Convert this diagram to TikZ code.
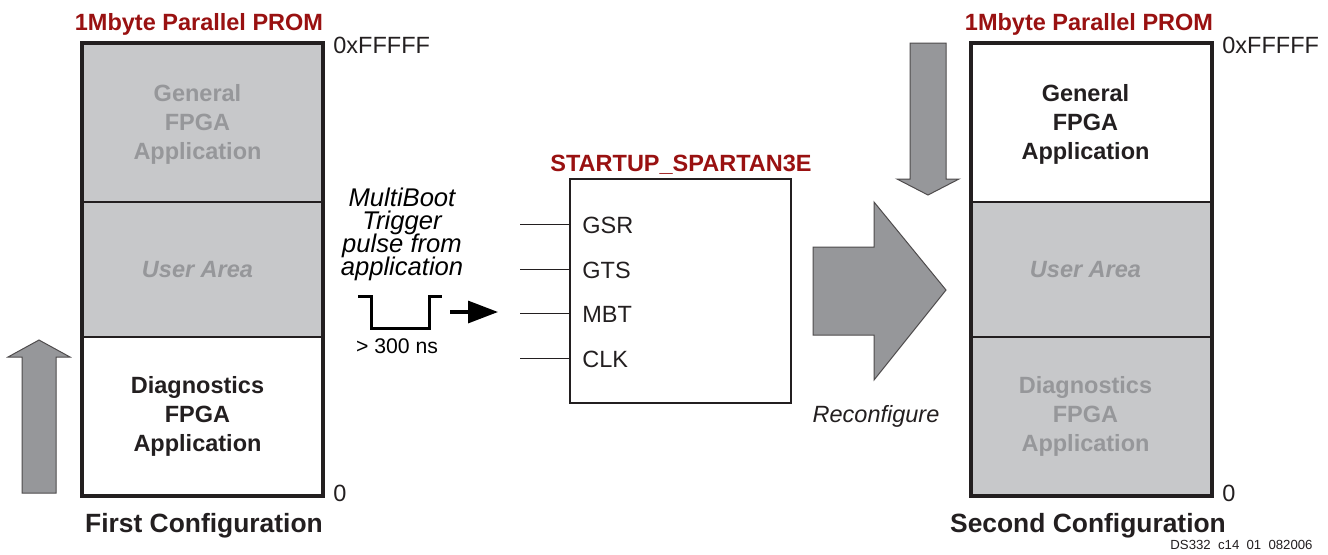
\documentclass[tikz,border=0pt]{standalone}
\usepackage{fontspec}
\setmainfont{Liberation Sans}
\usetikzlibrary{positioning,arrows.meta}

\definecolor{promRed}{RGB}{153,17,17}
\definecolor{promFill}{RGB}{199,200,202}
\definecolor{promText}{RGB}{150,151,154}
\definecolor{arrowGray}{RGB}{150,151,154}
\definecolor{lineDark}{RGB}{35,31,32}

\begin{document}
\begin{tikzpicture}[
    x=0.5pt, y=-0.5pt,
    promBoxStyle/.style={draw=lineDark, line width=1.6pt},
    promRegionStyle/.style={draw=lineDark, line width=0.5pt, minimum width=120pt,
        inner sep=0pt},
    regionTextStyle/.style={inner sep=0pt, align=center,
        font=\fontsize{11.75}{14.5}\selectfont\bfseries},
    promTitleStyle/.style={text=promRed, font=\fontsize{11.75}{14}\selectfont\bfseries,
        inner sep=0pt, anchor=base},
    addrStyle/.style={text=lineDark, font=\fontsize{11.75}{14}\selectfont,
        inner sep=0pt, anchor=base west},
    configLabelStyle/.style={text=lineDark, font=\fontsize{13.2}{16}\selectfont\bfseries,
        inner sep=0pt, anchor=base},
    pinLineStyle/.style={draw=lineDark, line width=0.5pt},
    pinLabelStyle/.style={text=lineDark, font=\fontsize{11.75}{14}\selectfont,
        inner sep=0pt, anchor=west},
    bigArrowStyle/.style={fill=arrowGray, draw=lineDark!80, line width=0.5pt},
    >=stealth
]
    \fill[white] (0,0) rectangle (1328,554);
    \useasboundingbox (0,0) rectangle (1328,554);

    % --- first configuration ---
    \filldraw[bigArrowStyle] (22,493) -- (22,357) -- (8,357) -- (39,340)
        -- (70,357) -- (56,357) -- (56,493) -- cycle;

    \node[promTitleStyle] (firstTitle) at (199,30) {1Mbyte Parallel PROM};
    \node[promRegionStyle, fill=promFill, minimum height=79pt,
        anchor=north west] (firstGen) at (82,43) {};
    \node[promRegionStyle, fill=promFill, minimum height=67pt,
        below=0pt of firstGen] (firstUser) {};
    \node[promRegionStyle, fill=white, minimum height=79pt,
        below=0pt of firstUser] (firstDiag) {};
    \draw[promBoxStyle] (firstGen.north west) rectangle (firstDiag.south east);

    \node[regionTextStyle, text=promText] (firstGenText)
        at ([xshift=-2.5pt, yshift=-1pt]firstGen.center) {General\\FPGA\\Application};
    \node[regionTextStyle, text=promText, font=\fontsize{11.75}{14.5}\selectfont\bfseries\itshape]
        (firstUserText) at ([xshift=-2.5pt]firstUser.center) {User Area};
    \node[regionTextStyle, text=lineDark] (firstDiagText)
        at ([xshift=-2.5pt]firstDiag.center) {Diagnostics\\FPGA\\Application};

    \node[addrStyle] (firstTop) at (333,53) {0xFFFFF};
    \node[addrStyle] (firstBottom) at (333,501) {0};
    \node[configLabelStyle] (firstLabel) at (204,532) {First Configuration};

    % --- MultiBoot trigger ---
    \node[text=black, inner sep=0pt, align=center,
        font={\fontsize{12.8}{11.5}\selectfont\itshape\lineskiplimit=-20pt}]
        (trigText) at (402,234) {MultiBoot\\Trigger\\pulse from\\application};

    \draw[draw=black, line width=1.5pt] (358,296) -- (371,296) -- (371,328)
        -- (429,328) -- (429,296) -- (442,296);
    \coordinate (pulseStart) at (450,312);
    \coordinate (pulseTip) at (498,312);
    \draw[draw=black, line width=1.6pt, -{Triangle[length=15pt,width=11pt]}]
        (pulseStart) -- (pulseTip);
    \node[text=black, font=\fontsize{10.6}{12}\selectfont, inner sep=0pt, anchor=base]
        (pulseWidth) at (397,353) {> 300 ns};

    % --- STARTUP block ---
    \node[promTitleStyle] (startupTitle) at (681,171) {STARTUP\_SPARTAN3E};
    \node[draw=lineDark, line width=1pt, minimum width=110.5pt, minimum height=112pt,
        inner sep=0pt] (startup) at (680.5,291) {};
    \foreach \pinName/\pinText/\pinY in {gsr/GSR/224, gts/GTS/269, mbt/MBT/313, clk/CLK/358} {
        \coordinate (\pinName-in) at (520,\pinY);
        \draw[pinLineStyle] (\pinName-in) -- (\pinName-in -| startup.west);
        \node[pinLabelStyle] (\pinName-label) at (582,\pinY+1) {\pinText};
    }

    % --- reconfigure ---
    \filldraw[bigArrowStyle] (813,247) -- (874,247) -- (874,202) -- (946,290)
        -- (874,380) -- (874,335) -- (813,335) -- cycle;
    \node[text=lineDark, font=\fontsize{11.75}{14}\selectfont\itshape, inner sep=0pt,
        anchor=base] (reconfLabel) at (876,422) {Reconfigure};

    % --- second configuration ---
    \filldraw[bigArrowStyle] (910,43) -- (910,179) -- (897,179) -- (928,195)
        -- (959,179) -- (946,179) -- (946,43) -- cycle;

    \node[promTitleStyle] (secondTitle) at (1089,30) {1Mbyte Parallel PROM};
    \node[promRegionStyle, fill=white, minimum height=79pt,
        anchor=north west] (secondGen) at (971,43) {};
    \node[promRegionStyle, fill=promFill, minimum height=67pt,
        below=0pt of secondGen] (secondUser) {};
    \node[promRegionStyle, fill=promFill, minimum height=79pt,
        below=0pt of secondUser] (secondDiag) {};
    \draw[promBoxStyle] (secondGen.north west) rectangle (secondDiag.south east);

    \node[regionTextStyle, text=lineDark] (secondGenText)
        at ([xshift=-3pt, yshift=-1pt]secondGen.center) {General\\FPGA\\Application};
    \node[regionTextStyle, text=promText, font=\fontsize{11.75}{14.5}\selectfont\bfseries\itshape]
        (secondUserText) at ([xshift=-3pt]secondUser.center) {User Area};
    \node[regionTextStyle, text=promText] (secondDiagText)
        at ([xshift=-3pt]secondDiag.center) {Diagnostics\\FPGA\\Application};

    \node[addrStyle] (secondTop) at (1222,53) {0xFFFFF};
    \node[addrStyle] (secondBottom) at (1222,501) {0};
    \node[configLabelStyle] (secondLabel) at (1088,532) {Second Configuration};

    \node[text=lineDark, font=\fontsize{6.6}{8}\selectfont, inner sep=0pt, anchor=base east]
        (figId) at (1313,549) {DS332\hspace{0.55em}c14\hspace{0.55em}01\hspace{0.55em}082006};
\end{tikzpicture}
\end{document}
